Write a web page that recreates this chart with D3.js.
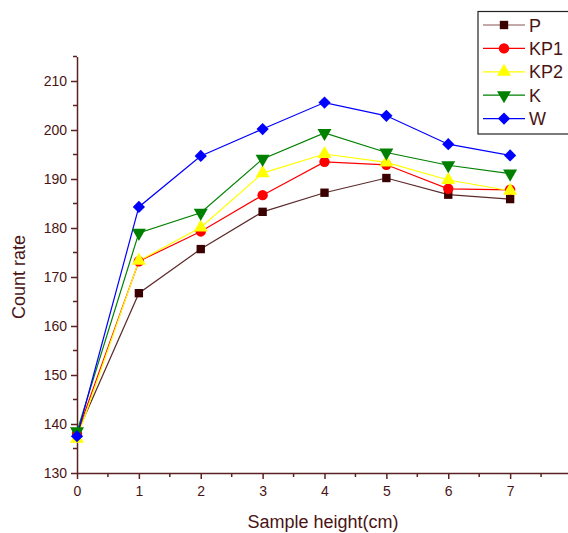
<!DOCTYPE html>
<html>
<head>
<meta charset="utf-8">
<style>
  body { margin: 0; background: #fff; }
  svg { display: block; font-family: "Liberation Sans", Arial, sans-serif; }
</style>
</head>
<body>
<div id="chart"></div>
<script src="https://d3js.org/d3.v7.min.js"></script>
<script>
'use strict';

var heights = [0, 1, 2, 3, 4, 5, 6, 7];
var seriesNames = ['P', 'KP1', 'KP2', 'K', 'W'];
var P   = [138.0, 166.7, 175.7, 183.3, 187.2, 190.2, 186.8, 185.9];
var KP1 = [138.0, 173.2, 179.3, 186.7, 193.5, 192.9, 188.0, 187.8];
var KP2 = [137.0, 173.3, 180.1, 191.2, 195.1, 193.4, 189.8, 187.6];
var K   = [138.5, 179.0, 183.1, 194.1, 199.4, 195.4, 192.8, 191.1];
var W   = [137.5, 184.3, 194.7, 200.2, 205.6, 202.9, 197.1, 194.8];
var yTicks = [130, 140, 150, 160, 170, 180, 190, 200, 210];
var xTicks = [0, 1, 2, 3, 4, 5, 6, 7];

// rot: extra rotation for the marker (K is a down triangle, W a square on its tip)
var series = [
  { name: 'P',   values: P,   line: '#5c2a2a', fill: '#3a0000', shape: d3.symbolSquare,   size: 70, rot: 0 },
  { name: 'KP1', values: KP1, line: '#ff0000', fill: '#ff0000', shape: d3.symbolCircle,   size: 85, rot: 0 },
  { name: 'KP2', values: KP2, line: '#ffff00', fill: '#ffff00', shape: d3.symbolTriangle, size: 85, rot: 0 },
  { name: 'K',   values: K,   line: '#008000', fill: '#008000', shape: d3.symbolTriangle, size: 85, rot: 180 },
  { name: 'W',   values: W,   line: '#0000ff', fill: '#0000ff', shape: d3.symbolSquare,   size: 75, rot: 45 }
];

var width = 568, height = 533;
var axisColor = '#5a2222', textColor = '#4a1414';

var x = d3.scaleLinear().domain([0, 8]).range([77, 572]);
var y = d3.scaleLinear().domain([130, 215]).range([473, 56.5]);

var svg = d3.select('#chart').append('svg')
  .attr('width', width).attr('height', height);

// minor ticks
var yMinor = d3.range(135, 216, 10);
svg.append('g').selectAll('line').data(yMinor).enter().append('line')
  .attr('x1', 73).attr('x2', 77)
  .attr('y1', function(d) { return y(d); }).attr('y2', function(d) { return y(d); })
  .attr('stroke', axisColor).attr('stroke-width', 1.5);
var xMinor = d3.range(0.5, 8, 1);
svg.append('g').selectAll('line').data(xMinor).enter().append('line')
  .attr('y1', 473).attr('y2', 477)
  .attr('x1', function(d) { return x(d); }).attr('x2', function(d) { return x(d); })
  .attr('stroke', axisColor).attr('stroke-width', 1.5);

var yAxis = d3.axisLeft(y).tickValues(yTicks).tickSize(6).tickSizeOuter(0).tickPadding(4);
var gy = svg.append('g').attr('transform', 'translate(77,0)').call(yAxis);
var xAxis = d3.axisBottom(x).tickValues(xTicks).tickSize(6).tickSizeOuter(0).tickPadding(7);
var gx = svg.append('g').attr('transform', 'translate(0,473)').call(xAxis);

[gy, gx].forEach(function(g) {
  g.select('.domain').attr('stroke', axisColor).attr('stroke-width', 1.5);
  g.selectAll('.tick line').attr('stroke', axisColor).attr('stroke-width', 1.5);
  g.selectAll('.tick text').attr('fill', textColor).style('font-size', '14px')
    .style('font-family', '"Liberation Sans", Arial, sans-serif');
});

svg.append('text')
  .attr('transform', 'translate(25,277) rotate(-90)')
  .attr('text-anchor', 'middle')
  .attr('fill', textColor).style('font-size', '18px')
  .text('Count rate');
svg.append('text')
  .attr('x', 323).attr('y', 528)
  .attr('text-anchor', 'middle')
  .attr('fill', textColor).style('font-size', '18px')
  .text('Sample height(cm)');

var line = d3.line()
  .x(function(d, i) { return x(heights[i]); })
  .y(function(d) { return y(d); });

series.forEach(function(s) {
  svg.append('path').datum(s.values)
    .attr('d', line).attr('fill', 'none')
    .attr('stroke', s.line).attr('stroke-width', 1.2);
});

function symbolPath(s) {
  return d3.symbol().type(s.shape).size(s.size)();
}

series.forEach(function(s) {
  svg.append('g').selectAll('path').data(s.values).enter().append('path')
    .attr('d', symbolPath(s))
    .attr('transform', function(d, i) {
      return 'translate(' + x(heights[i]) + ',' + y(d) + ') rotate(' + s.rot + ')';
    })
    .attr('fill', s.fill);
});

// legend
var lg = svg.append('g');
lg.append('rect').attr('x', 478).attr('y', 11.5).attr('width', 95).attr('height', 122.5)
  .attr('fill', '#fff').attr('stroke', '#222').attr('stroke-width', 1.2);
var items = lg.selectAll('g.item').data(series).enter().append('g')
  .attr('transform', function(d, i) { return 'translate(0,' + (25 + i * 23.4) + ')'; });
items.append('line').attr('x1', 483).attr('x2', 525).attr('y1', 0).attr('y2', 0)
  .attr('stroke', function(d) { return d.name === 'P' ? '#8a5555' : d.line; })
  .attr('stroke-width', 1.2);
items.append('path')
  .attr('d', function(d) { return symbolPath(d); })
  .attr('transform', function(d) { return 'translate(504,0) rotate(' + d.rot + ')'; })
  .attr('fill', function(d) { return d.fill; });
items.append('text').attr('x', 529).attr('y', 6.5)
  .attr('fill', textColor).style('font-size', '18px')
  .text(function(d) { return d.name; });
</script>
</body>
</html>
